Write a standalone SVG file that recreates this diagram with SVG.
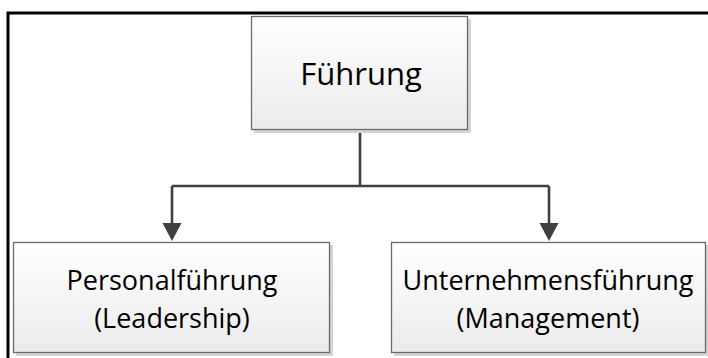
<svg xmlns="http://www.w3.org/2000/svg" width="708" height="358" viewBox="0 0 708 358">
<defs>
<linearGradient id="g" x1="0" y1="0" x2="0" y2="1">
<stop offset="0" stop-color="#ffffff"/>
<stop offset="1" stop-color="#ebebeb"/>
</linearGradient>
<marker id="arr" viewBox="0 0 20 18" refX="10" refY="17" markerWidth="20" markerHeight="18" markerUnits="userSpaceOnUse" orient="auto-start-reverse">
<path d="M0,0 L20,0 L10,18 Z" fill="#404040"/>
</marker>
<style>
.box{fill:url(#g);stroke:#6a6a6a;stroke-width:1.3}
.sh{fill:#d4d4d4}
.t{font-family:"Open Sans","Liberation Sans",sans-serif;fill:#000;text-anchor:middle}
.c{fill:none;stroke:#404040;stroke-width:2.6}
</style>
</defs>
<rect width="708" height="358" fill="#fff"/>
<path d="M8,358 V13 H708" fill="none" stroke="#000" stroke-width="3"/>
<g id="connectors">
<path class="c" d="M360,130 V186"/>
<path class="c" d="M172,186 H549"/>
<path class="c" d="M172,186 V224"/>
<path class="c" d="M549,186 V224"/>
<path d="M162.5,223 L181.5,223 L172,241 Z" fill="#404040"/>
<path d="M539.5,223 L558.5,223 L549,241 Z" fill="#404040"/>
</g>
<g id="fuehrung">
<rect class="sh" x="254" y="19" width="217" height="114"/>
<rect class="box" x="251.5" y="16.5" width="216" height="113"/>
<text class="t" x="361" y="85" font-size="31">Führung</text>
</g>
<g id="personalfuehrung">
<rect class="sh" x="16" y="245" width="317" height="111"/>
<rect class="box" x="13.5" y="242.5" width="316" height="110"/>
<text class="t" x="172" y="290" font-size="27">Personalführung</text>
<text class="t" x="172" y="328" font-size="27">(Leadership)</text>
</g>
<g id="unternehmensfuehrung">
<rect class="sh" x="394" y="245" width="314" height="111"/>
<rect class="box" x="391.5" y="242.5" width="314" height="110"/>
<text class="t" x="548" y="290" font-size="27">Unternehmensführung</text>
<text class="t" x="548" y="328" font-size="27">(Management)</text>
</g>
</svg>
